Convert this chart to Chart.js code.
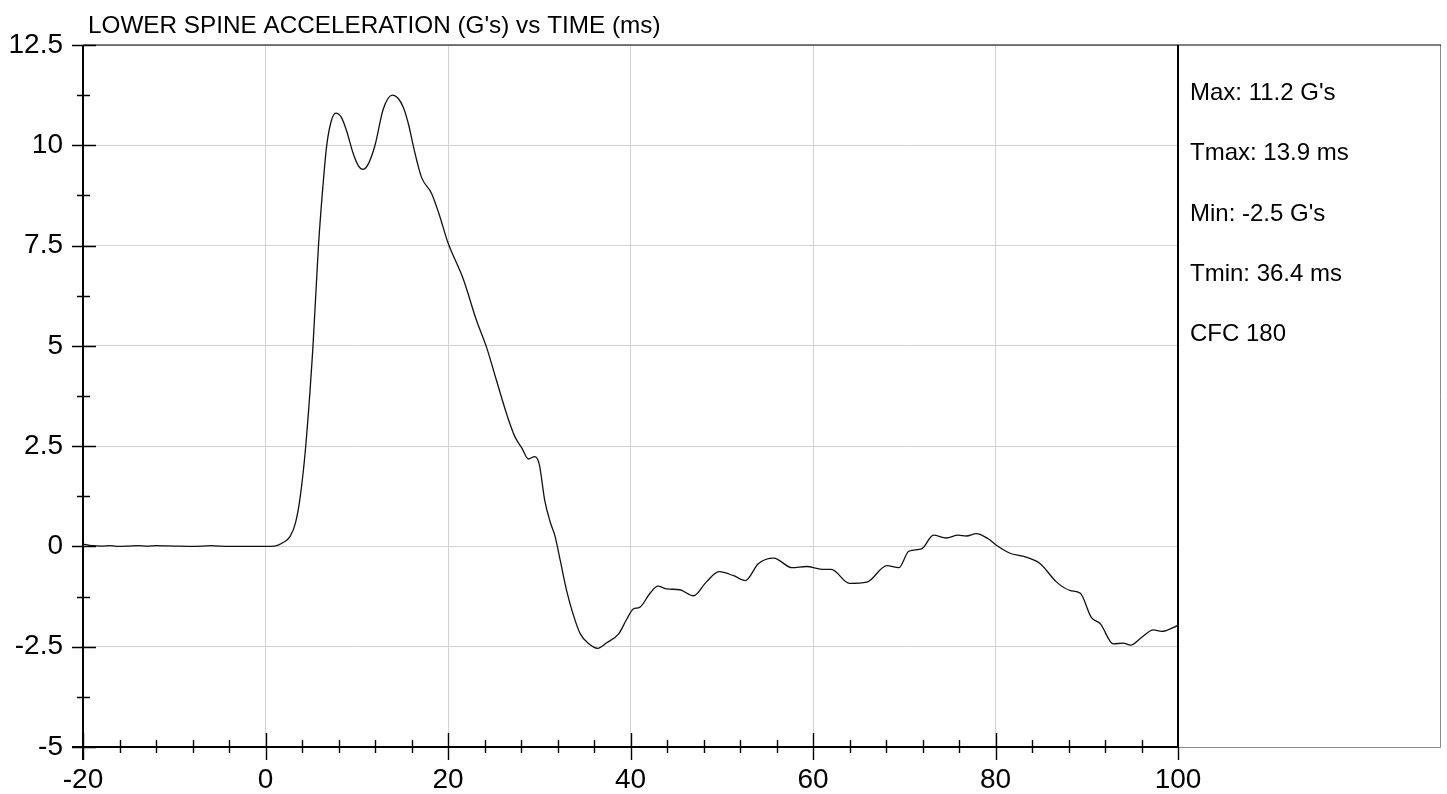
<!DOCTYPE html>
<html>
<head>
<meta charset="utf-8">
<script src="https://cdn.jsdelivr.net/npm/chart.js@4"></script>
<style>
  html, body { margin: 0; padding: 0; background: #fff; }
  #wrap { width: 1447px; height: 794px; }
</style>
</head>
<body>
<div id="wrap"><canvas id="c" width="1447" height="794"></canvas></div>
<script>
const chartTitle = "LOWER SPINE ACCELERATION (G's) vs TIME (ms)";
const statsLines = ["Max: 11.2 G's", "Tmax: 13.9 ms", "Min: -2.5 G's", "Tmin: 36.4 ms", "CFC 180"];

const timeMs = [-20, -19, -18, -17, -16, -15, -14, -13, -12, -10, -8, -6, -4, -2, 0, 1, 1.8, 2.7, 3.3, 3.8, 4.4, 5.2, 5.8, 6.3, 6.7, 7.2, 7.7, 8.3, 8.9, 9.6, 10.2, 10.7, 11.3, 12.0, 12.9, 13.9, 14.5, 15.1, 15.7, 16.2, 17.1, 18.2, 19.0, 20.0, 21.7, 23.1, 24.2, 25.3, 26.4, 27.3, 28.1, 28.8, 29.5, 30.0, 30.6, 31.2, 31.7, 32.3, 33.0, 33.7, 34.5, 35.4, 36.4, 37.4, 38.7, 39.6, 40.3, 41.0, 42.1, 43.0, 44.0, 45.4, 46.9, 48.3, 49.7, 51.3, 52.6, 54.0, 55.7, 57.7, 59.3, 61.0, 62.0, 64.0, 65.9, 68.1, 69.4, 70.5, 71.9, 73.2, 74.6, 75.9, 76.8, 77.9, 79.2, 80.1, 81.6, 83.1, 84.9, 86.7, 88.2, 89.3, 90.5, 91.5, 92.9, 94.0, 94.8, 96.0, 97.3, 98.2, 100];
const accelG = [0.06, 0.02, 0.01, 0.02, 0.0, 0.01, 0.02, 0.01, 0.02, 0.01, 0.0, 0.02, 0.0, 0.0, 0.0, 0.01, 0.08, 0.25, 0.6, 1.23, 2.48, 4.98, 7.48, 9.0, 9.98, 10.6, 10.8, 10.7, 10.35, 9.8, 9.48, 9.4, 9.55, 10.0, 10.9, 11.25, 11.18, 10.95, 10.5, 9.98, 9.2, 8.8, 8.3, 7.57, 6.65, 5.65, 4.98, 4.15, 3.32, 2.75, 2.45, 2.18, 2.24, 2.05, 1.15, 0.61, 0.28, -0.35, -1.1, -1.68, -2.18, -2.42, -2.54, -2.4, -2.18, -1.81, -1.56, -1.52, -1.18, -0.99, -1.06, -1.08, -1.23, -0.89, -0.63, -0.73, -0.85, -0.43, -0.29, -0.53, -0.5, -0.57, -0.57, -0.92, -0.89, -0.48, -0.53, -0.12, -0.06, 0.28, 0.21, 0.28, 0.26, 0.32, 0.19, 0.03, -0.17, -0.25, -0.43, -0.89, -1.1, -1.17, -1.77, -1.93, -2.43, -2.41, -2.46, -2.27, -2.08, -2.12, -1.97];

const xTickValues = [-20, 0, 20, 40, 60, 80, 100];
const xTickLabels = ["-20", "0", "20", "40", "60", "80", "100"];
const yTickValues = [-5, -2.5, 0, 2.5, 5, 7.5, 10, 12.5];
const yTickLabels = ["-5", "-2.5", "0", "2.5", "5", "7.5", "10", "12.5"];

const FONT = "'Liberation Sans', Arial, sans-serif";

const decorPlugin = {
  id: 'decor',
  afterDraw(chart) {
    const ctx = chart.ctx;
    const xs = chart.scales.x, ys = chart.scales.y;
    const L = chart.chartArea.left, R = chart.chartArea.right;
    const T = chart.chartArea.top, B = chart.chartArea.bottom;
    ctx.save();
    // panel
    ctx.strokeStyle = '#8a8a8a';
    ctx.lineWidth = 1;
    ctx.beginPath();
    ctx.moveTo(R, B + 0.5); ctx.lineTo(1440.5, B + 0.5);
    ctx.moveTo(1440.5, T); ctx.lineTo(1440.5, B + 0.5);
    ctx.stroke();
    // top border
    ctx.strokeStyle = '#000';
    ctx.lineWidth = 1.2;
    ctx.beginPath();
    ctx.moveTo(L, T); ctx.lineTo(1441, T);
    ctx.stroke();
    // axes
    ctx.lineWidth = 2;
    ctx.beginPath();
    ctx.moveTo(L, T); ctx.lineTo(L, B + 13);
    ctx.moveTo(L - 11, B); ctx.lineTo(R, B);
    ctx.moveTo(R, T); ctx.lineTo(R, B);
    ctx.stroke();
    // ticks
    ctx.lineWidth = 1.4;
    ctx.beginPath();
    for (let v = -5; v <= 12.5 + 1e-9; v += 1.25) {
      const y = Math.round(ys.getPixelForValue(v)) + 0.5;
      const major = Math.abs(v / 2.5 - Math.round(v / 2.5)) < 1e-6;
      if (major) { ctx.moveTo(L - 11, y); ctx.lineTo(L + 13, y); }
      else { ctx.moveTo(L - 6, y); ctx.lineTo(L + 7, y); }
    }
    for (let t = -20; t <= 100 + 1e-9; t += 4) {
      const x = Math.round(xs.getPixelForValue(t)) + 0.5;
      const major = (t % 20) === 0;
      if (major) {
        if (t === 100) { ctx.moveTo(x, B); ctx.lineTo(x, B + 13); }
        else { ctx.moveTo(x, B - 14); ctx.lineTo(x, B + 13); }
      } else { ctx.moveTo(x, B - 7); ctx.lineTo(x, B + 6); }
    }
    ctx.stroke();
    // title
    ctx.fillStyle = '#000';
    ctx.font = "24.3px " + FONT;
    ctx.textBaseline = 'alphabetic';
    ctx.textAlign = 'left';
    ctx.fillText(chartTitle, 88, 33);
    // stats
    ctx.font = "24px " + FONT;
    const ys0 = [100, 160, 221, 281, 341];
    statsLines.forEach((s, i) => ctx.fillText(s, 1190, ys0[i]));
    ctx.restore();
  }
};

new Chart(document.getElementById('c'), {
  type: 'line',
  data: {
    datasets: [{
      data: timeMs.map((t, i) => ({ x: t, y: accelG[i] })),
      borderColor: '#111',
      borderWidth: 1.3,
      pointRadius: 0,
      cubicInterpolationMode: 'monotone',
      fill: false
    }]
  },
  options: {
    responsive: false,
    animation: false,
    events: [],
    layout: { padding: { left: 0, top: 45, right: 269, bottom: 0 } },
    plugins: { legend: { display: false }, tooltip: { enabled: false }, title: { display: false } },
    scales: {
      x: {
        type: 'linear', min: -20, max: 100,
        afterBuildTicks: s => { s.ticks = xTickValues.map(v => ({ value: v })); },
        afterFit: s => { s.height = 47; },
        ticks: {
          autoSkip: false, maxRotation: 0, padding: 16, color: '#000',
          font: { family: FONT, size: 28 },
          callback: v => { const i = xTickValues.indexOf(v); return i >= 0 ? xTickLabels[i] : ''; }
        },
        grid: { color: '#d2d2d2', lineWidth: 1, drawTicks: false },
        border: { display: false }
      },
      y: {
        type: 'linear', min: -5, max: 12.5,
        afterBuildTicks: s => { s.ticks = yTickValues.map(v => ({ value: v })); },
        afterFit: s => { s.width = 83; },
        ticks: {
          autoSkip: false, padding: 20, color: '#000',
          font: { family: FONT, size: 28 },
          callback: v => { const i = yTickValues.indexOf(v); return i >= 0 ? yTickLabels[i] : ''; }
        },
        grid: { color: '#d2d2d2', lineWidth: 1, drawTicks: false },
        border: { display: false }
      }
    }
  },
  plugins: [decorPlugin]
});
</script>
</body>
</html>
